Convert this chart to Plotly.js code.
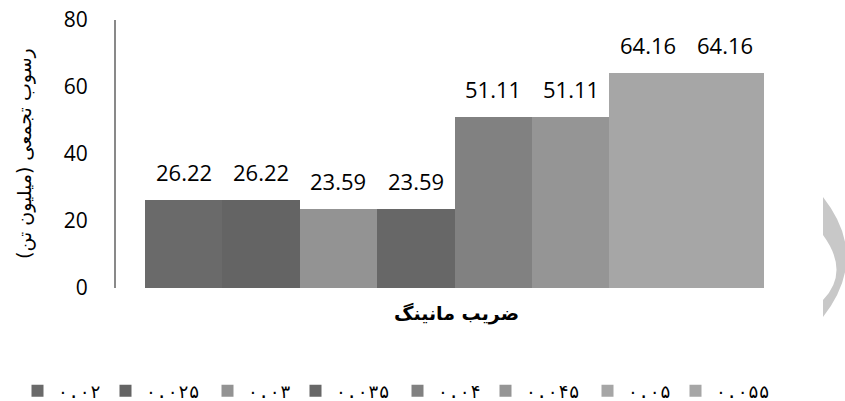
<!DOCTYPE html>
<html>
<head>
<meta charset="utf-8">
<script src="https://cdn.plot.ly/plotly-3.0.1.min.js"></script>
<style>html,body{margin:0;padding:0;background:#fff;}#chart{width:845px;height:401px;}</style>
</head>
<body>
<div id="chart"></div>
<script>
// Data
const seriesNames = ['۰.۰۲', '۰.۰۲۵', '۰.۰۳', '۰.۰۳۵', '۰.۰۴', '۰.۰۴۵', '۰.۰۵', '۰.۰۵۵'];
const values = [26.22, 26.22, 23.59, 23.59, 51.11, 51.11, 64.16, 64.16];
const colors = ['#6a6a6a', '#646464', '#939393', '#676767', '#818181', '#959595', '#a6a6a6', '#a6a6a6'];
const yTickVals = [0, 20, 40, 60, 80];
const xTitle = 'ضریب مانینگ';
const yTitle = 'رسوب تجمعی (میلیون تن)';

// plot area geometry (pixels)
const ML = 116, MR = 20, MT = 20, MB = 113;
const PW = 845 - ML - MR, PH = 401 - MT - MB;
const pxX = x => (x - ML) / PW;
const pxY = y => (401 - MB - y) / PH;

const traces = seriesNames.map((name, i) => ({
  type: 'bar',
  name: name,
  x: [name],
  y: [values[i]],
  marker: {color: colors[i], line: {width: 0}},
  width: 1,
  legendwidth: name.length > 4 ? 57 : 43,
  hoverinfo: 'y+name'
}));

const labelAnnotations = seriesNames.map((name, i) => ({
  xref: 'x', yref: 'y',
  x: name, y: values[i],
  text: values[i].toFixed(2),
  showarrow: false,
  yanchor: 'middle',
  yshift: 28,
  font: {family: 'Open Sans, sans-serif', size: 22, color: '#000'}
}));

const layout = {
  width: 845, height: 401,
  margin: {l: ML, r: MR, t: MT, b: MB, autoexpand: false},
  paper_bgcolor: '#fff',
  plot_bgcolor: '#fff',
  barmode: 'overlay',
  bargap: 0,
  showlegend: true,
  legend: {
    orientation: 'h',
    xref: 'paper', yref: 'paper',
    x: pxX(17.5), xanchor: 'left',
    y: pxY(391), yanchor: 'middle',
    font: {family: 'DejaVu Sans Mono, DejaVu Sans, monospace', size: 18, color: '#000'},
    itemclick: false, itemdoubleclick: false
  },
  xaxis: {
    type: 'category',
    categoryorder: 'array',
    categoryarray: seriesNames,
    range: [-0.875, 8.288],
    showticklabels: false,
    showline: false, showgrid: false, zeroline: false, ticks: ''
  },
  yaxis: {
    range: [0, 80],
    tickvals: yTickVals,
    ticktext: yTickVals.map(String),
    showgrid: false, zeroline: false,
    showline: true, linecolor: '#898989', linewidth: 2,
    ticks: '',
    ticklabelstandoff: 22,
    tickfont: {family: 'Open Sans, sans-serif', size: 21, color: '#000'}
  },
  annotations: labelAnnotations.concat([
    {
      xref: 'paper', yref: 'paper', x: pxX(456), y: 0, yshift: -25,
      text: '<b>' + xTitle + '</b>', showarrow: false,
      xanchor: 'center', yanchor: 'middle',
      font: {family: 'DejaVu Sans, sans-serif', size: 19, color: '#000'}
    },
    {
      xref: 'paper', yref: 'paper', x: 0, xshift: -92, y: 0.5,
      text: yTitle, showarrow: false, textangle: -90,
      xanchor: 'center', yanchor: 'middle',
      font: {family: 'DejaVu Sans, sans-serif', size: 19, color: '#000'}
    }
  ]),
  shapes: [{
    type: 'path', xref: 'paper', yref: 'paper',
    path: (function(){
      const px = x => pxX(x).toFixed(4);
      const py = y => pxY(y).toFixed(4);
      return 'M ' + px(823) + ' ' + py(197) +
        ' Q ' + px(870) + ' ' + py(257) + ' ' + px(823) + ' ' + py(317) +
        ' L ' + px(823) + ' ' + py(300) +
        ' Q ' + px(850) + ' ' + py(272) + ' ' + px(823) + ' ' + py(235) + ' Z';
    })(),
    fillcolor: '#c8c8c8', line: {width: 0}, layer: 'above'
  }]
};

Plotly.newPlot('chart', traces, layout, {displayModeBar: false, staticPlot: true});
</script>
</body>
</html>
